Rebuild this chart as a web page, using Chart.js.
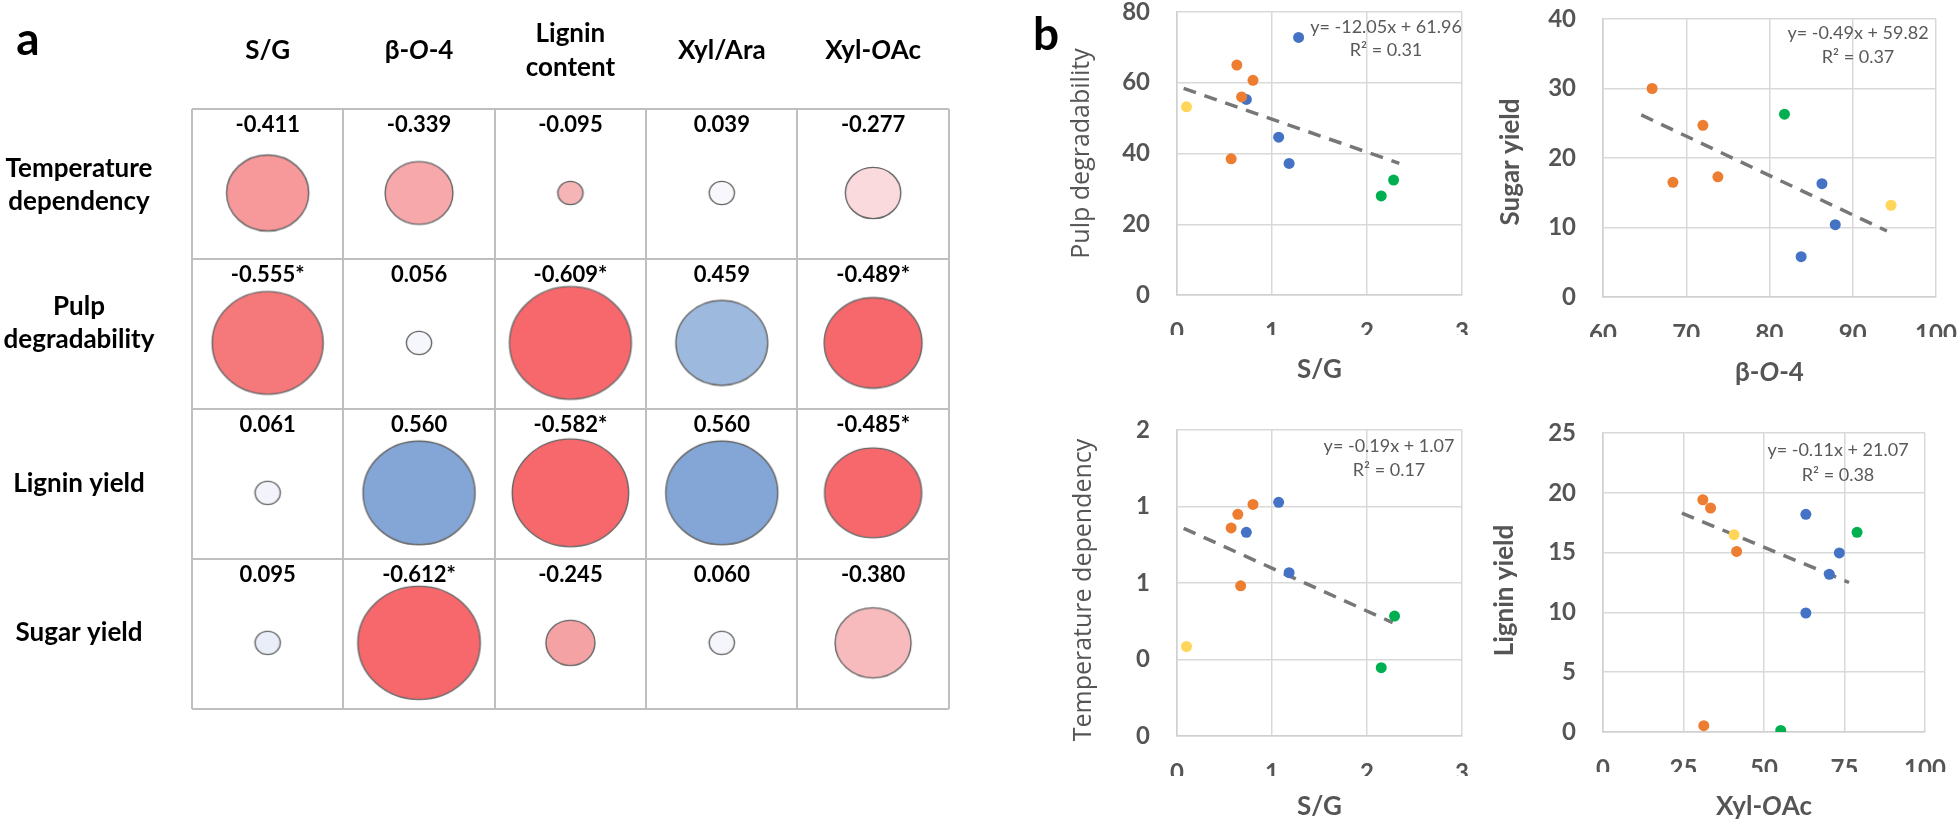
<!DOCTYPE html>
<html><head><meta charset="utf-8">
<script src="https://cdn.jsdelivr.net/npm/chart.js@4/dist/chart.umd.min.js"></script>
<style>
html,body{margin:0;padding:0;background:#fff;width:1960px;height:824px;overflow:hidden;position:relative;}
canvas{position:absolute;}
</style></head><body>
<script>
// ---------- Panel a data ----------
const columns = ['S/G', 'β-<i>O</i>-4', 'Lignin\ncontent', 'Xyl/Ara', 'Xyl-<i>O</i>Ac'];
const rows = ['Temperature\ndependency', 'Pulp\ndegradability', 'Lignin yield', 'Sugar yield'];
const corr = [
  [-0.411, -0.339, -0.095, 0.039, -0.277],
  [-0.555, 0.056, -0.609, 0.459, -0.489],
  [0.061, 0.560, -0.582, 0.560, -0.485],
  [0.095, -0.612, -0.245, 0.060, -0.380]
];
const significant = [
  [0, 0, 0, 0, 0],
  [1, 0, 1, 0, 1],
  [0, 0, 1, 0, 1],
  [0, 1, 0, 0, 0]
];

// ---------- Panel b data ----------
const sgPulpX = [1.28, 0.63, 0.80, 0.68, 0.73, 0.10, 1.07, 0.57, 1.18, 2.28, 2.15];
const sgPulpY = [72.8, 65.0, 60.7, 56.0, 55.3, 53.2, 44.6, 38.5, 37.2, 32.5, 28.0];
const sgPulpGroup = ['b', 'o', 'o', 'o', 'b', 'y', 'b', 'o', 'b', 'g', 'g'];
const sgPulpTrendX = [0.07, 2.34];
const sgPulpTrendY = [58.4, 37.2];
const sgPulpEq = ['y= -12.05x + 61.96', 'R² = 0.31'];

const bo4SugarX = [65.9, 72.0, 81.8, 68.4, 73.8, 86.3, 94.6, 87.9, 83.8];
const bo4SugarY = [30.0, 24.7, 26.3, 16.5, 17.3, 16.3, 13.2, 10.4, 5.8];
const bo4SugarGroup = ['o', 'o', 'g', 'o', 'o', 'b', 'y', 'b', 'b'];
const bo4SugarTrendX = [64.6, 94.1];
const bo4SugarTrendY = [26.2, 9.5];
const bo4SugarEq = ['y= -0.49x + 59.82', 'R² = 0.37'];

const sgTempX = [0.80, 1.07, 0.64, 0.57, 0.73, 1.18, 0.67, 0.10, 2.29, 2.15];
const sgTempY = [1.211, 1.222, 1.159, 1.088, 1.065, 0.854, 0.785, 0.468, 0.627, 0.357];
const sgTempGroup = ['o', 'b', 'o', 'o', 'b', 'b', 'o', 'y', 'g', 'g'];
const sgTempTrendX = [0.07, 2.27];
const sgTempTrendY = [1.086, 0.593];
const sgTempEq = ['y= -0.19x + 1.07', 'R² = 0.17'];

const oacLigninX = [31.0, 33.4, 63.0, 78.9, 40.7, 41.5, 73.4, 70.3, 63.0, 31.3, 55.2];
const oacLigninY = [19.42, 18.73, 18.2, 16.7, 16.5, 15.1, 14.97, 13.18, 9.95, 0.53, 0.13];
const oacLigninGroup = ['o', 'o', 'b', 'g', 'y', 'o', 'b', 'b', 'b', 'o', 'g'];
const oacLigninTrendX = [24.5, 76.4];
const oacLigninTrendY = [18.3, 12.5];
const oacLigninEq = ['y= -0.11x + 21.07', 'R² = 0.38'];

// ---------- Styles ----------
const cellColors = [
  ['#F7989A', '#F6A8AA', '#F5B4B6', '#F8F8FC', '#FADADD'],
  ['#F5787B', '#F6F7FC', '#F6686C', '#9DB9DE', '#F6686C'],
  ['#F3F4FB', '#84A6D6', '#F6686C', '#84A6D6', '#F6686C'],
  ['#E9EEF8', '#F6686C', '#F5A2A4', '#F5F6FB', '#F7BABD']
];
const groupColor = { o: '#ED7D31', b: '#4472C4', g: '#00B050', y: '#FFD659' };
const FONT = 'Lato';
const AXIS_GREY = '#555555';

function addCanvas(left, top, w, h) {
  const c = document.createElement('canvas');
  c.width = w; c.height = h;
  c.style.left = left + 'px'; c.style.top = top + 'px';
  c.style.width = w + 'px'; c.style.height = h + 'px';
  document.body.appendChild(c);
  return c;
}

function drawRich(ctx, text, x, y, size, weight, family, color) {
  const parts = text.split(/(<i>.*?<\/i>)/).filter(Boolean).map(p =>
    p.startsWith('<i>') ? { t: p.slice(3, -4), it: true } : { t: p, it: false });
  const fontOf = it => (it ? 'italic ' : '') + weight + ' ' + size + 'px ' + family;
  let total = 0;
  parts.forEach(p => { ctx.font = fontOf(p.it); p.w = ctx.measureText(p.t).width; total += p.w; });
  let cx = x - total / 2;
  ctx.textAlign = 'left'; ctx.textBaseline = 'middle'; ctx.fillStyle = color;
  parts.forEach(p => { ctx.font = fontOf(p.it); ctx.fillText(p.t, cx, y); cx += p.w; });
}

function zeroPad(s) { s.paddingLeft = 0; s.paddingRight = 0; s.paddingTop = 0; s.paddingBottom = 0; }

// ---------- Panel a ----------
(function () {
  const cv = addCanvas(0, 0, 1010, 770);
  const pts = [], imgs = [];
  corr.forEach((row, i) => row.forEach((v, j) => {
    const rx = Math.max(12.6, 100 * Math.abs(v));
    const ry = rx * 0.925;
    const c = document.createElement('canvas');
    const w = Math.ceil(rx * 2 + 4), h = Math.ceil(ry * 2 + 4);
    c.width = w; c.height = h;
    const g = c.getContext('2d');
    g.beginPath(); g.ellipse(w / 2, h / 2, rx, ry, 0, 0, Math.PI * 2);
    g.fillStyle = cellColors[i][j]; g.fill();
    g.lineWidth = 1.4; g.strokeStyle = '#666666'; g.stroke();
    imgs.push(c);
    pts.push({ x: j + 0.5, y: i + 0.56, r: rx });
  }));
  const rowLabelPos = [0.51, 0.43, 0.5, 0.49];
  const textPlugin = {
    id: 'tableText',
    afterDraw(chart) {
      const { ctx, scales: { x, y } } = chart;
      ctx.save();
      ctx.font = 'bold 46px ' + FONT; ctx.fillStyle = '#000';
      ctx.textAlign = 'center'; ctx.textBaseline = 'alphabetic';
      ctx.fillText('a', 28, 55);
      const hy = y.getPixelForValue(0) - 58;
      columns.forEach((c, j) => {
        const lines = c.split('\n');
        const cx = x.getPixelForValue(j + 0.5);
        lines.forEach((ln, k) => drawRich(ctx, ln, cx, hy + (k - (lines.length - 1) / 2) * 34, 26, 'bold', FONT, '#000'));
      });
      rows.forEach((r, i) => {
        const lines = r.split('\n');
        const cy = y.getPixelForValue(i + rowLabelPos[i]);
        lines.forEach((ln, k) => drawRich(ctx, ln, x.left - 113, cy + (k - (lines.length - 1) / 2) * 33, 26, 'bold', FONT, '#000'));
      });
      corr.forEach((row, i) => row.forEach((v, j) => {
        const t = v.toFixed(3) + (significant[i][j] ? '*' : '');
        drawRich(ctx, t, x.getPixelForValue(j + 0.5), y.getPixelForValue(i + 0.105), 22, 'bold', FONT, '#000');
      }));
      ctx.restore();
    }
  };
  new Chart(cv, {
    type: 'bubble',
    data: { datasets: [{ data: pts, pointStyle: imgs, backgroundColor: '#fff', borderWidth: 0 }] },
    options: {
      responsive: false, animation: false, events: [],
      layout: { padding: { left: 192, top: 109, right: 11, bottom: 17 } },
      plugins: { legend: { display: false }, tooltip: { enabled: false } },
      scales: {
        x: {
          type: 'linear', min: 0, max: 5,
          ticks: { display: false, stepSize: 1 },
          grid: { color: '#BFBFBF', lineWidth: 2, drawTicks: false },
          border: { display: false },
          afterFit(s) { s.height = 0; zeroPad(s); }
        },
        y: {
          type: 'linear', min: 0, max: 4, reverse: true,
          ticks: { display: false, stepSize: 1 },
          grid: { color: '#BFBFBF', lineWidth: 2, drawTicks: false },
          border: { display: false },
          afterFit(s) { s.width = 0; zeroPad(s); }
        }
      }
    },
    plugins: [textPlugin]
  });
})();

// ---------- Panel b ----------
function scatterChart(o) {
  const cv = addCanvas(o.box[0], o.box[1], o.box[2], o.box[3]);
  const YW = 60, XH = 40;
  const pad = {
    left: o.area[0] - o.box[0] - YW,
    top: o.area[1] - o.box[1],
    right: o.box[0] + o.box[2] - o.area[2],
    bottom: o.box[1] + o.box[3] - o.area[3] - XH
  };
  const ds = ['o', 'y', 'g', 'b'].map(g => ({
    data: o.x.map((xv, i) => ({ x: xv, y: o.y[i], g: o.g[i] })).filter(p => p.g === g),
    backgroundColor: groupColor[g], borderWidth: 0, pointRadius: 5.5, order: 0
  }));
  ds.push({
    data: o.tx.map((xv, i) => ({ x: xv, y: o.ty[i] })), showLine: true,
    borderColor: '#777777', borderWidth: 3.5, borderDash: [13, 9], borderCapStyle: 'butt',
    pointRadius: 0, order: 1
  });
  const tickFont = { family: FONT, size: 24, weight: 'bold' };
  const plug = {
    id: 'titles',
    afterDraw(chart) {
      const { ctx, chartArea: a } = chart;
      ctx.save();
      drawRich(ctx, o.xTitle, (a.left + a.right) / 2, a.bottom + o.xTitleOff, 26, 'bold', FONT, AXIS_GREY);
      ctx.translate(a.left - o.yTitleOff, (a.top + a.bottom) / 2 + o.yTitleShift);
      ctx.rotate(-Math.PI / 2);
      drawRich(ctx, o.yTitle, 0, 0, o.yTitleSize, o.yTitleWeight, o.yTitleFamily, AXIS_GREY);
      ctx.restore();
      ctx.save();
      ctx.font = '18px ' + FONT; ctx.fillStyle = '#595959';
      ctx.textAlign = 'center'; ctx.textBaseline = 'middle';
      o.eq.forEach((t, k) => ctx.fillText(t, a.right - o.eqOff, a.top + o.eqY[k]));
      if (o.letter) {
        ctx.font = 'bold 46px ' + FONT; ctx.fillStyle = '#000';
        ctx.textBaseline = 'alphabetic';
        ctx.fillText(o.letter, o.letterPos[0], o.letterPos[1]);
      }
      ctx.restore();
    }
  };
  new Chart(cv, {
    type: 'scatter',
    data: { datasets: ds },
    options: {
      responsive: false, animation: false, events: [],
      layout: { padding: pad },
      plugins: { legend: { display: false }, tooltip: { enabled: false } },
      scales: {
        x: {
          type: 'linear', min: o.xr[0], max: o.xr[1],
          ticks: { stepSize: o.xr[2], padding: 23, font: tickFont, color: AXIS_GREY, maxRotation: 0, autoSkip: false },
          grid: { color: '#D9D9D9', lineWidth: 1.5, drawTicks: false },
          border: { color: '#D0D0D0', width: 1.5 },
          afterFit(s) { s.height = XH; zeroPad(s); }
        },
        y: {
          type: 'linear', min: o.yr[0], max: o.yr[1],
          ticks: { stepSize: o.yr[2], padding: 27, font: tickFont, color: AXIS_GREY, autoSkip: false,
                   callback: o.yRound ? (v => String(Math.round(v))) : (v => String(v)) },
          grid: { color: '#D9D9D9', lineWidth: 1.5, drawTicks: false },
          border: { color: '#D0D0D0', width: 1.5 },
          afterFit(s) { s.width = YW; zeroPad(s); }
        }
      }
    },
    plugins: [plug]
  });
}

scatterChart({
  box: [1020, 0, 460, 400], area: [1177, 12, 1462, 295],
  x: sgPulpX, y: sgPulpY, g: sgPulpGroup, tx: sgPulpTrendX, ty: sgPulpTrendY, eq: sgPulpEq,
  xr: [0, 3, 1], yr: [0, 80, 20],
  xTitle: 'S/G', xTitleOff: 75,
  yTitle: 'Pulp degradability', yTitleOff: 95, yTitleShift: 0, yTitleSize: 25, yTitleWeight: 'normal', yTitleFamily: '"Open Sans"',
  eqOff: 76, eqY: [15, 38], letter: 'b', letterPos: [26, 50]
});
scatterChart({
  box: [1480, 0, 480, 400], area: [1603, 19, 1936, 297],
  x: bo4SugarX, y: bo4SugarY, g: bo4SugarGroup, tx: bo4SugarTrendX, ty: bo4SugarTrendY, eq: bo4SugarEq,
  xr: [60, 100, 10], yr: [0, 40, 10],
  xTitle: 'β-<i>O</i>-4', xTitleOff: 76,
  yTitle: 'Sugar yield', yTitleOff: 92, yTitleShift: 4, yTitleSize: 26, yTitleWeight: 'bold', yTitleFamily: FONT,
  eqOff: 78, eqY: [14, 38]
});
scatterChart({
  box: [1020, 400, 460, 424], area: [1177, 430, 1462, 736],
  x: sgTempX, y: sgTempY, g: sgTempGroup, tx: sgTempTrendX, ty: sgTempTrendY, eq: sgTempEq,
  xr: [0, 3, 1], yr: [0, 1.6, 0.4], yRound: true,
  xTitle: 'S/G', xTitleOff: 71,
  yTitle: 'Temperature dependency', yTitleOff: 93, yTitleShift: 7, yTitleSize: 25, yTitleWeight: 'normal', yTitleFamily: '"Open Sans"',
  eqOff: 73, eqY: [16, 40]
});
scatterChart({
  box: [1480, 400, 480, 424], area: [1603, 433, 1925, 732],
  x: oacLigninX, y: oacLigninY, g: oacLigninGroup, tx: oacLigninTrendX, ty: oacLigninTrendY, eq: oacLigninEq,
  xr: [0, 100, 25], yr: [0, 25, 5],
  xTitle: 'Xyl-<i>O</i>Ac', xTitleOff: 75,
  yTitle: 'Lignin yield', yTitleOff: 98, yTitleShift: 8, yTitleSize: 26, yTitleWeight: 'bold', yTitleFamily: FONT,
  eqOff: 87, eqY: [17, 42]
});
</script>
</body></html>
